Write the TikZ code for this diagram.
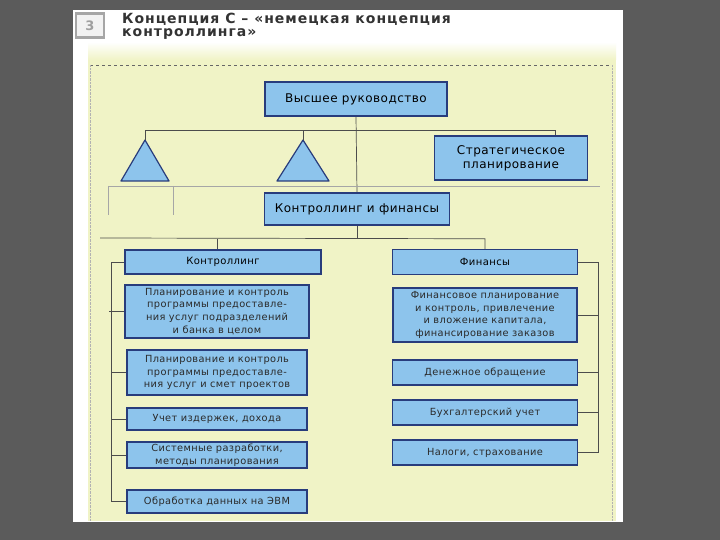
\documentclass[tikz,border=0pt]{standalone}
\usepackage{fontspec}
\setmainfont{DejaVu Sans}[LetterSpace=4]
\newfontfamily\titlefont{DejaVu Sans}[LetterSpace=7]
\usetikzlibrary{positioning}

\definecolor{slidegray}{HTML}{5B5B5B}
\definecolor{papergreen}{HTML}{F0F3C6}
\definecolor{boxblue}{HTML}{8DC4EC}
\definecolor{boxnavy}{HTML}{283C7C}
\definecolor{inkgray}{HTML}{2A2A2A}

\begin{document}
\begin{tikzpicture}[
  x=1pt, y=-1pt,
  font=\fontsize{9.8}{12.8}\selectfont,
  orgbox/.style={
    draw=boxnavy, fill=boxblue, line width=1.5pt,
    align=center, inner sep=1pt, text=inkgray
  },
  headbox/.style={orgbox, text=black, font=\fontsize{12}{14}\selectfont},
  subhead/.style={orgbox, text=black, font=\fontsize{10}{12.5}\selectfont},
  numbox/.style={
    draw=gray!70, fill=gray!10, line width=2.5pt,
    minimum width=28pt, minimum height=24pt, text=gray!75,
    font=\titlefont\bfseries\fontsize{13}{13}\selectfont
  },
  titletext/.style={
    align=left, inner sep=0pt, text=black!80,
    font=\titlefont\bfseries\fontsize{14}{13}\selectfont
  },
  tri/.style={fill=boxblue, draw=boxnavy, line width=1.2pt, line join=round},
  link/.style={draw=black!70, line width=0.7pt},
  faint/.style={draw=black!35, line width=0.5pt}
]
\useasboundingbox (0,0) rectangle (720,540);

% =============================================================
% slide, paper and title
% =============================================================
\fill[slidegray] (0,0) rectangle (720,540);
\fill[white] (73,10) rectangle (623,522);
\shade[top color=white, bottom color=papergreen] (88,42) rectangle (616,60);
\fill[papergreen] (88,60) rectangle (616,521);
\draw[dashed, black!60, line width=0.5pt] (90,65) -- (612,65);
\draw[densely dotted, black!30] (90,65) -- (90,521);
\draw[densely dotted, black!30] (612,65) -- (612,521);

\node[numbox] (num) at (90,25.5) {3};
\node[titletext, anchor=north west] (title) at (122,13)
   {Концепция С – «немецкая концепция\\контроллинга»};

% =============================================================
% boxes
% =============================================================
\node[headbox, minimum width=182pt, minimum height=34pt] (top) at (356,99)
   {Высшее руководство};
\node[headbox, minimum width=153pt, minimum height=44pt] (strat) at (511,158)
   {Стратегическое\\планирование};
\node[headbox, minimum width=185pt, minimum height=32pt] (cf) at (357,209)
   {Контроллинг и финансы};

\node[subhead, minimum width=196pt, minimum height=24pt] (ctrl) at (223,262)
   {Контроллинг};
\node[subhead, minimum width=185pt, minimum height=25pt] (fin) at (485,262)
   {Финансы};

% left column
\node[orgbox, minimum width=184pt, minimum height=53pt] (l1) at (217,311.5)
   {Планирование и контроль\\программы предоставле-\\ния услуг подразделений\\и банка в целом};
\node[orgbox, minimum width=180pt, minimum height=45pt] (l2) at (217,372.5)
   {Планирование и контроль\\программы предоставле-\\ния услуг и смет проектов};
\node[orgbox, minimum width=180pt, minimum height=22pt] (l3) at (217,419)
   {Учет издержек, дохода};
\node[orgbox, minimum width=180pt, minimum height=26pt] (l4) at (217,455)
   {Системные разработки,\\методы планирования};
\node[orgbox, minimum width=180pt, minimum height=23pt] (l5) at (217,501.5)
   {Обработка данных на ЭВМ};

% right column
\node[orgbox, minimum width=184pt, minimum height=54pt] (r1) at (485,315)
   {Финансовое планирование\\и контроль, привлечение\\и вложение капитала,\\финансирование заказов};
\node[orgbox, minimum width=185pt, minimum height=25pt] (r2) at (485,372.5)
   {Денежное обращение};
\node[orgbox, minimum width=185pt, minimum height=25pt] (r3) at (485,412.5)
   {Бухгалтерский учет};
\node[orgbox, minimum width=185pt, minimum height=25pt] (r4) at (485,452.5)
   {Налоги, страхование};

% triangles
\coordinate (triL) at (145,140);
\coordinate (triR) at (303,140);
\filldraw[tri] (triL) -- ++(-24,41) -- ++(48,0) -- cycle;
\filldraw[tri] (triR) -- ++(-26,41) -- ++(52,0) -- cycle;

% =============================================================
% connectors
% =============================================================

% top -> controlling and finance
\draw[link] (top.south) -- (cf.north);

% staff line: triangles and strategic planning
\draw[link] (triL) -- ++(0,-10) -| ([xshift=44pt]strat.north);
\draw[link] (triR) -- ++(0,-10);

% guide lines under the triangles
\draw[faint] (108,186) -- (600,186);
\draw[faint] (108,186) -- ++(0,29);
\draw[faint] (173,186) -- ++(0,29);

% controlling and finance -> two departments
\draw[link] (cf.south) -- ++(0,13) coordinate (busC);
\draw[link] (100,238) -- (fin.north |- busC) -- (fin.north);
\draw[link] ([xshift=-6pt]ctrl.north |- busC) -- ([xshift=-6pt]ctrl.north);

% left spine
\draw[link] (ctrl.west) -- ++(-13,0) |- (l5.west);
\foreach \b in {l1,l2,l3,l4}
  \draw[link] (\b.west) -- ++(-15,0);

% right spine
\draw[link] (fin.east) -- ++(20,0) |- (r4.east);
\foreach \b in {r1,r2,r3}
  \draw[link] (\b.east) -- ++(20,0);

\end{tikzpicture}
\end{document}
